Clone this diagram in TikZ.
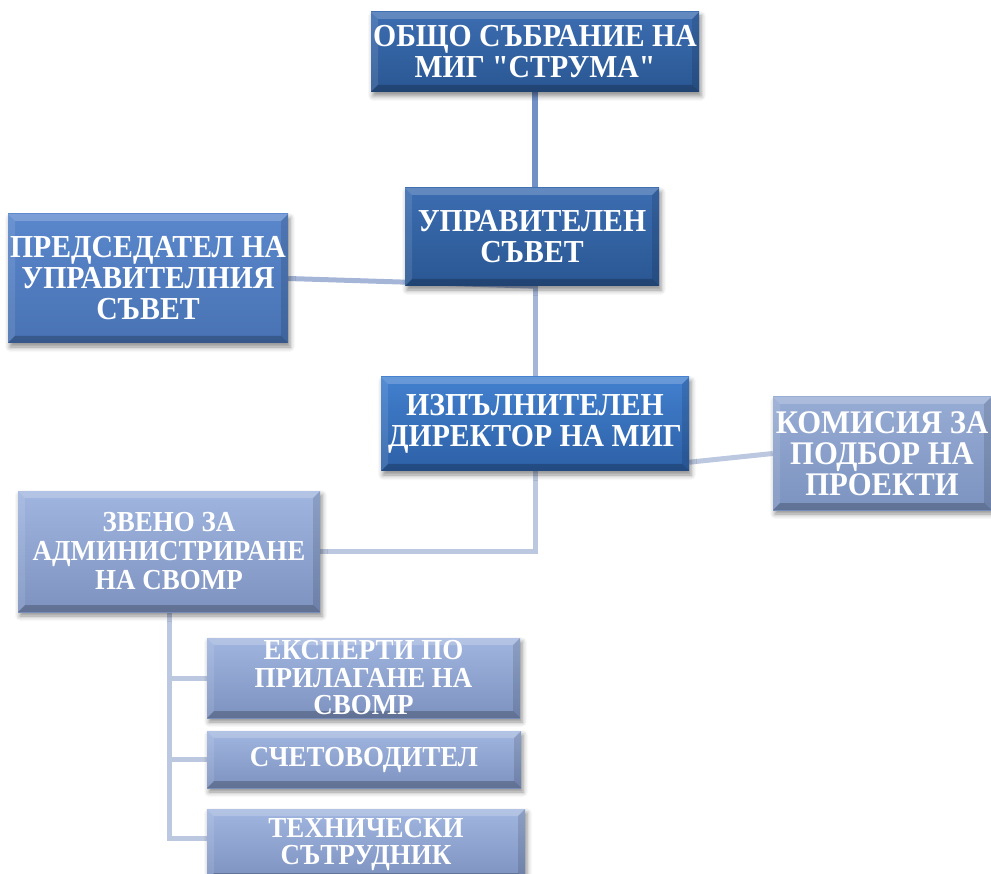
\documentclass[tikz,border=0pt]{standalone}
\usepackage{fontspec}
\setmainfont[FakeStretch=0.93, Ligatures=TeXOff]{Liberation Serif}
\usetikzlibrary{shadows.blur,backgrounds}

\definecolor{dkT}{HTML}{3C6DB1}
\definecolor{dkB}{HTML}{2A5793}
\definecolor{brT}{HTML}{4280CF}
\definecolor{brB}{HTML}{2D60A6}
\definecolor{mdT}{HTML}{5A87CC}
\definecolor{mdB}{HTML}{4872B3}
\definecolor{grT}{HTML}{97ACD4}
\definecolor{grB}{HTML}{7C93C0}
\definecolor{ltT}{HTML}{A0B5DF}
\definecolor{ltB}{HTML}{7D92BF}
\definecolor{lnA}{HTML}{7090C6}
\definecolor{lnB}{HTML}{A4B5D8}
\definecolor{lnC}{HTML}{BCC7E0}

\newcommand\bevelfill{%
 \fill[white,opacity=.2] (path picture bounding box.north west) -- (path picture bounding box.north east) -- ([shift={(-7pt,-7pt)}]path picture bounding box.north east) -- ([shift={(7pt,-7pt)}]path picture bounding box.north west) -- cycle;
 \fill[white,opacity=.1] (path picture bounding box.north west) -- ([shift={(7pt,-7pt)}]path picture bounding box.north west) -- ([shift={(7pt,7pt)}]path picture bounding box.south west) -- (path picture bounding box.south west) -- cycle;
 \fill[black,opacity=.12] (path picture bounding box.north east) -- ([shift={(-7pt,-7pt)}]path picture bounding box.north east) -- ([shift={(-7pt,7pt)}]path picture bounding box.south east) -- (path picture bounding box.south east) -- cycle;
 \fill[black,opacity=.22] (path picture bounding box.south west) -- ([shift={(7pt,7pt)}]path picture bounding box.south west) -- ([shift={(-7pt,7pt)}]path picture bounding box.south east) -- (path picture bounding box.south east) -- cycle;
}

\tikzset{
 orgbox/.style={rectangle, inner sep=0pt, align=center, text=white,
   font=\bfseries\fontsize{32}{31}\selectfont,
   blur shadow={shadow xshift=2pt, shadow yshift=-4pt, shadow blur radius=5pt, shadow opacity=45},
   path picture={\bevelfill}},
 darkbox/.style={orgbox, top color=dkT, bottom color=dkB},
 brightbox/.style={orgbox, top color=brT, bottom color=brB},
 midbox/.style={orgbox, top color=mdT, bottom color=mdB},
 greybox/.style={orgbox, top color=grT, bottom color=grB},
 lightbox/.style={orgbox, top color=ltT, bottom color=ltB, font=\bfseries\fontsize{29}{27.5}\selectfont},
 linkA/.style={draw=lnA, line width=6pt},
 linkB/.style={draw=lnB, line width=5pt},
 linkC/.style={draw=lnC, line width=5pt},
}

\begin{document}
\begin{tikzpicture}[x=1pt, y=-1pt]
\useasboundingbox (0,0) rectangle (991,874);

\node[darkbox, minimum width=328pt, minimum height=80pt] (A) at (535,52) {ОБЩО СЪБРАНИЕ НА\\МИГ "СТРУМА"};
\node[darkbox, minimum width=254pt, minimum height=98pt] (B) at (532,237) {УПРАВИТЕЛЕН\\СЪВЕТ};
\node[midbox, minimum width=280pt, minimum height=129pt] (C) at (148,278.5) {ПРЕДСЕДАТЕЛ НА\\УПРАВИТЕЛНИЯ\\СЪВЕТ};
\node[brightbox, minimum width=308pt, minimum height=94pt] (D) at (535,424) {ИЗПЪЛНИТЕЛЕН\\ДИРЕКТОР НА МИГ};
\node[greybox, minimum width=218pt, minimum height=113pt, font=\bfseries\fontsize{33}{31}\selectfont] (E) at (882,453.5) {КОМИСИЯ ЗА\\ПОДБОР НА\\ПРОЕКТИ};
\node[lightbox, minimum width=302pt, minimum height=121pt, font=\bfseries\fontsize{29}{29}\selectfont] (F) at (169,551.5) {ЗВЕНО ЗА\\АДМИНИСТРИРАНЕ\\НА СВОМР};
\node[lightbox, minimum width=313pt, minimum height=80pt] (G) at (363.5,678) {ЕКСПЕРТИ ПО\\ПРИЛАГАНЕ НА\\СВОМР};
\node[lightbox, minimum width=314pt, minimum height=57pt] (H) at (364,759.5) {СЧЕТОВОДИТЕЛ};
\node[lightbox, minimum width=318pt, minimum height=71pt] (I) at (366,844.5) {ТЕХНИЧЕСКИ\\СЪТРУДНИК};

\begin{scope}[on background layer]
\draw[linkA] (A.south) -- (A.south |- B.north);
\draw[linkB] (D.north |- B.south) -- (D.north);
\draw[linkB] (C.east) -- (D.north |- B.south);
\draw[linkC] ([yshift=9pt]D.south east) -- (E.west);
\draw[linkC] (D.south) |- (F.east);
\draw[linkC] (F.south) |- (G.west);
\draw[linkC] (F.south) |- (H.west);
\draw[linkC] (F.south) |- ([yshift=6pt]I.west);
\end{scope}
\end{tikzpicture}
\end{document}
